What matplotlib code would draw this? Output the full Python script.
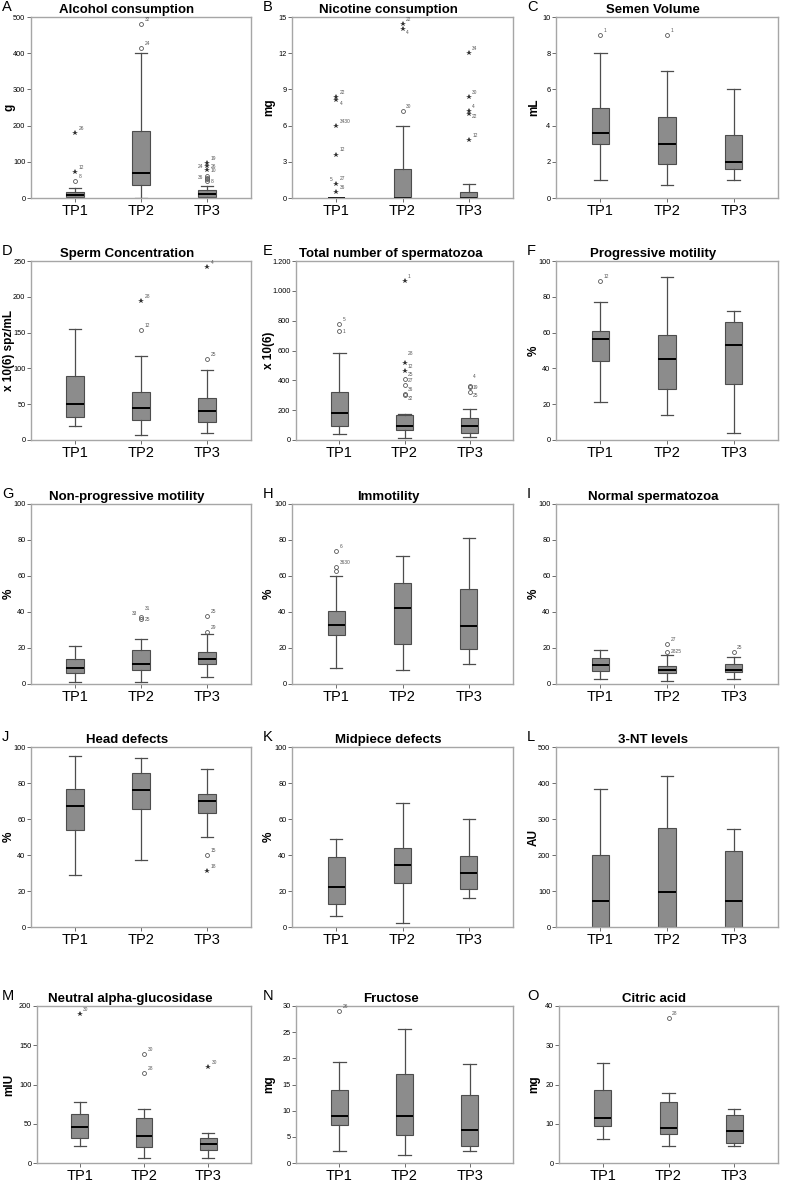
import matplotlib
matplotlib.use('Agg')
import matplotlib.pyplot as plt

plt.rcParams['font.family'] = ['Liberation Sans', 'DejaVu Sans']

groups = ['TP1', 'TP2', 'TP3']

# box stats per group: [whisker low, Q1, median, Q3, whisker high]
alcohol = [[0, 3, 8, 16, 29], [0, 35, 70, 186, 400], [0, 3, 10, 21, 32]]
nicotine = [[0, 0, 0, 0, 0], [0, 0, 0, 2.4, 6], [0, 0, 0, 0.5, 1.2]]
volume = [[1, 3, 3.6, 5, 8], [0.7, 1.9, 3, 4.5, 7], [1, 1.6, 2, 3.5, 6]]
concentration = [[20, 32, 50, 90, 155], [7, 28, 45, 67, 118], [10, 25, 40, 58, 98]]
total = [[40, 95, 180, 325, 585], [15, 70, 95, 165, 175], [22, 48, 95, 145, 205]]
progressive = [[21, 44, 56.5, 61, 77], [14, 28.5, 45, 58.5, 91], [4, 31.5, 53, 66, 72]]
nonprog = [[1, 6, 9, 14, 21], [1, 8, 11, 19, 25], [4, 11, 14, 18, 28]]
immotility = [[9, 27.5, 33, 40.5, 60], [8, 22.5, 42.5, 56, 71], [11, 19.5, 32.5, 53, 81]]
normal = [[3, 7, 10.5, 14.5, 19], [1.5, 6, 8, 10, 16], [3, 6.5, 8, 11, 15]]
head = [[29, 54, 67.5, 76.5, 95], [37, 65.5, 76, 85.5, 94], [50, 63.5, 70, 74, 88]]
midpiece = [[6, 13, 22, 39, 49], [2, 24.5, 34.5, 44, 69], [16, 21, 30, 39.5, 60]]
nt3 = [[0, 0, 72, 200, 383], [0, 0, 97, 276, 420], [0, 0, 73, 210, 273]]
glucosidase = [[22, 32, 46, 62, 78], [7, 20, 35, 57, 69], [7, 16, 24, 32, 38]]
fructose = [[2.3, 7.2, 9, 14, 19.3], [1.5, 5.3, 9, 17, 25.7], [2.3, 3.2, 6.3, 13, 19]]
citric = [[6, 9.5, 11.5, 18.5, 25.5], [4.3, 7.5, 8.8, 15.5, 17.8], [4.3, 5.2, 8.2, 12.2, 13.8]]

# outliers: (group, value, marker, case label, label place)
# place: r = right/up, ru = right/higher, rm = right/level, rd = right/down, l = left
alcohol_out = [(1, 180, '*', '26', 'r'), (1, 72, '*', '12', 'r'), (1, 48, 'o', '8', 'r'),
               (2, 480, 'o', '32', 'r'), (2, 415, 'o', '24', 'r'),
               (3, 97, '*', '19', 'r'), (3, 88, '*', '26', 'rm'), (3, 76, '*', '10', 'rm'),
               (3, 76, '', '24', 'l'), (3, 60, 'o', '', 'r'), (3, 56, 'o', '', 'r'),
               (3, 52, 'o', '', 'r'), (3, 46, 'o', '8', 'rm'), (3, 46, '', '36', 'l')]
nicotine_out = [(1, 8.4, '*', '22', 'r'), (1, 8.1, '*', '4', 'rd'), (1, 6.0, '*', '3430', 'r'),
                (1, 3.6, '*', '12', 'r'), (1, 1.2, '*', '27', 'r'), (1, 1.2, '', '5', 'l'),
                (1, 0.5, '*', '36', 'r'),
                (2, 14.4, '*', '22', 'r'), (2, 14.0, '*', '4', 'rd'), (2, 7.2, 'o', '30', 'r'),
                (3, 12, '*', '34', 'r'), (3, 8.4, '*', '30', 'r'), (3, 7.2, '*', '4', 'r'),
                (3, 7.0, '*', '22', 'rd'), (3, 4.8, '*', '12', 'r')]
volume_out = [(1, 9, 'o', '1', 'r'), (2, 9, 'o', '1', 'r')]
concentration_out = [(2, 194, '*', '28', 'r'), (2, 154, 'o', '12', 'r'),
                     (3, 241, '*', '4', 'r'), (3, 113, 'o', '25', 'r')]
total_out = [(1, 775, 'o', '5', 'r'), (1, 730, 'o', '1', 'rm'),
             (2, 1065, '*', '1', 'r'), (2, 519, '*', '28', 'ru'), (2, 465, '*', '12', 'r'),
             (2, 411, 'o', '25', 'r'), (2, 371, 'o', '27', 'r'), (2, 310, 'o', '36', 'r'),
             (2, 300, 'o', '32', 'rd'),
             (3, 365, 'o', '4', 'ru'), (3, 355, 'o', '19', 'rm'), (3, 320, 'o', '25', 'rd')]
progressive_out = [(1, 89, 'o', '12', 'r')]
nonprog_out = [(2, 37, 'o', '31', 'ru'), (2, 36, 'o', '25', 'rm'), (2, 37, '', '33', 'l'),
               (3, 38, 'o', '25', 'r'), (3, 29, 'o', '29', 'r')]
immotility_out = [(1, 74, 'o', '6', 'r'), (1, 65, 'o', '3630', 'r'), (1, 63, 'o', '', 'r')]
normal_out = [(2, 22, 'o', '27', 'r'), (2, 18, 'o', '2825', 'rm'), (3, 18, 'o', '25', 'r')]
head_out = [(3, 40, 'o', '15', 'r'), (3, 31, '*', '18', 'r')]
midpiece_out = []
nt3_out = []
glucosidase_out = [(1, 190, '*', '30', 'r'), (2, 139, 'o', '30', 'r'), (2, 115, 'o', '28', 'r'),
                   (3, 122, '*', '30', 'r')]
fructose_out = [(1, 29, 'o', '26', 'r')]
citric_out = [(2, 37, 'o', '28', 'r')]

panels = [
    ('A', 'Alcohol consumption', 'g', alcohol, alcohol_out, 500, [0, 100, 200, 300, 400, 500], None),
    ('B', 'Nicotine consumption', 'mg', nicotine, nicotine_out, 15, [0, 3, 6, 9, 12, 15], None),
    ('C', 'Semen Volume', 'mL', volume, volume_out, 10, [0, 2, 4, 6, 8, 10], None),
    ('D', 'Sperm Concentration', 'x 10(6) spz/mL', concentration, concentration_out, 250,
     [0, 50, 100, 150, 200, 250], None),
    ('E', 'Total number of spermatozoa', 'x 10(6)', total, total_out, 1200,
     [0, 200, 400, 600, 800, 1000, 1200], ['0', '200', '400', '600', '800', '1.000', '1.200']),
    ('F', 'Progressive motility', '%', progressive, progressive_out, 100, [0, 20, 40, 60, 80, 100], None),
    ('G', 'Non-progressive motility', '%', nonprog, nonprog_out, 100, [0, 20, 40, 60, 80, 100], None),
    ('H', 'Immotility', '%', immotility, immotility_out, 100, [0, 20, 40, 60, 80, 100], None),
    ('I', 'Normal spermatozoa', '%', normal, normal_out, 100, [0, 20, 40, 60, 80, 100], None),
    ('J', 'Head defects', '%', head, head_out, 100, [0, 20, 40, 60, 80, 100], None),
    ('K', 'Midpiece defects', '%', midpiece, midpiece_out, 100, [0, 20, 40, 60, 80, 100], None),
    ('L', '3-NT levels', 'AU', nt3, nt3_out, 500, [0, 100, 200, 300, 400, 500], None),
    ('M', 'Neutral alpha-glucosidase', 'mIU', glucosidase, glucosidase_out, 200,
     [0, 50, 100, 150, 200], None),
    ('N', 'Fructose', 'mg', fructose, fructose_out, 30, [0, 5, 10, 15, 20, 25, 30], None),
    ('O', 'Citric acid', 'mg', citric, citric_out, 40, [0, 10, 20, 30, 40], None),
]

W, H = 787, 1187
rows = [(17, 198), (261, 440), (504, 684), (747, 927), (1006, 1163)]
cols = [(31, 251), (292, 513), (556, 778)]
letter_x = [2, 263, 527]
ylabel_x = [9, 269, 534]

label_pos = {'r': (2.5, 1.5, 'left', 'bottom'), 'ru': (2.5, 4.5, 'left', 'bottom'),
             'rm': (2.5, 0, 'left', 'center'), 'rd': (2.5, -0.5, 'left', 'top'),
             'l': (-2.5, 1.0, 'right', 'bottom')}

fig = plt.figure(figsize=(W / 100, H / 100), dpi=100)

edge = '#4d4d4d'
for i, (letter, title, ylab, stats, outs, ymax, ticks, tlabels) in enumerate(panels):
    r, c = divmod(i, 3)
    top, bot = rows[r]
    left, right = cols[c]
    if letter == 'E':
        left = 296
    if r == 4:
        left = [37, 296, 559][c]
    ax = fig.add_axes([left / W, 1 - bot / H, (right - left) / W, (bot - top) / H])

    st = [dict(whislo=s[0], q1=s[1], med=s[2], q3=s[3], whishi=s[4], fliers=[]) for s in stats]
    ax.bxp(st, positions=[1, 2, 3], widths=0.26, capwidths=0.19, patch_artist=True,
           showfliers=False,
           boxprops=dict(facecolor='#8c8c8c', edgecolor=edge, linewidth=0.8),
           medianprops=dict(color='black', linewidth=1.4),
           whiskerprops=dict(color=edge, linewidth=0.9),
           capprops=dict(color=edge, linewidth=0.9))

    for g, y, m, lab, place in outs:
        if m == 'o':
            ax.plot(g, y, 'o', mfc='none', mec='#555555', ms=2.8, mew=0.6)
        elif m == '*':
            ax.plot(g, y, marker='*', color='#333333', ms=3.8, mew=0, ls='none')
        if lab:
            dx, dy, ha, va = label_pos[place]
            ax.annotate(lab, (g, y), xytext=(dx, dy), textcoords='offset points',
                        ha=ha, va=va, fontsize=3.5, color='#555555')

    ax.set_xlim(1 / 3, 11 / 3)
    ax.set_ylim(0, ymax)
    ax.set_yticks(ticks)
    if tlabels:
        ax.set_yticklabels(tlabels)
    ax.set_xticks([1, 2, 3])
    ax.set_xticklabels(groups)
    ax.tick_params(axis='y', labelsize=5.3, length=3, width=0.6, color='#555555', pad=1)
    ax.tick_params(axis='x', labelsize=10.5, length=3, width=0.6, color='#555555', pad=1)
    for sp in ax.spines.values():
        sp.set_color('#a6a6a6')
        sp.set_linewidth(1.0)
    ax.set_ylabel(ylab, fontsize=8.5, fontweight='bold', va='center')
    ax.yaxis.set_label_coords((ylabel_x[c] - left) / (right - left), 0.5)
    ax.annotate(title, (0.436, 1), xycoords='axes fraction', xytext=(0, 1),
                textcoords='offset points', ha='center', va='bottom',
                fontsize=9.5, fontweight='bold')
    fig.text(letter_x[c] / W, 1 - (top - 10) / H, letter, fontsize=10.5, ha='left', va='center')

fig.savefig('out.png', dpi=100)
